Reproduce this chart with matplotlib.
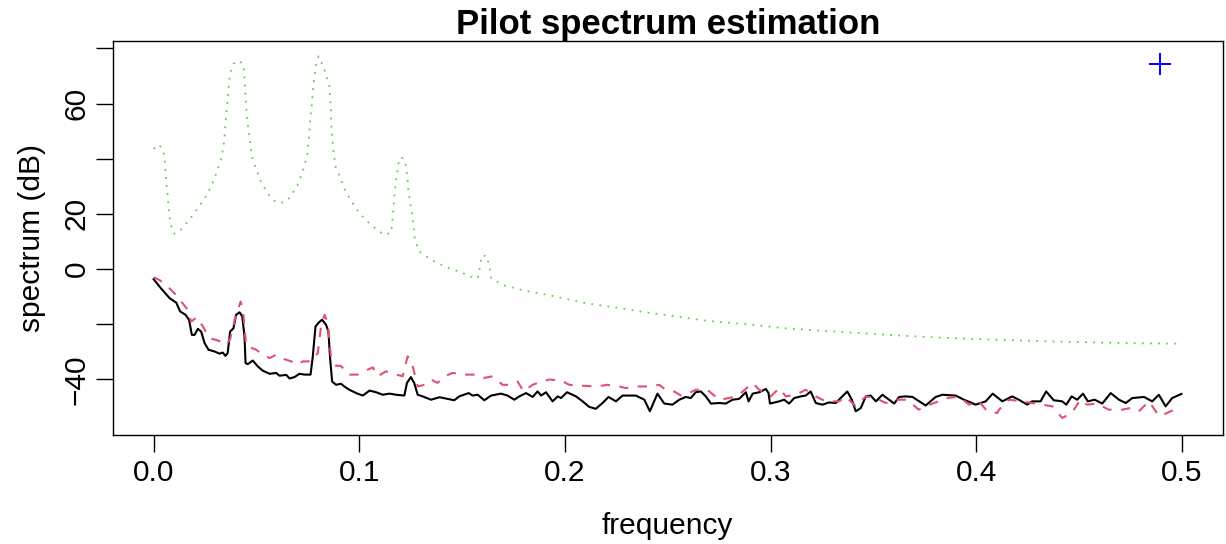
import matplotlib
matplotlib.use("Agg")
import matplotlib.pyplot as plt
import numpy as np

plt.rcParams['font.family'] = ['Liberation Sans', 'DejaVu Sans']

# pilot AR spectrum (green, dotted)
ar_f = [0.0, 0.0026, 0.0047, 0.0053, 0.0058, 0.0065, 0.0072, 0.0079, 0.0087, 0.010,
        0.0131, 0.0178, 0.0223, 0.0264, 0.0296, 0.032, 0.0331, 0.0343, 0.0351, 0.0358,
        0.0364, 0.0372, 0.0389, 0.0408, 0.0432, 0.0440, 0.0446, 0.0451, 0.0458, 0.0468,
        0.0476, 0.0487, 0.0499, 0.0526, 0.0567, 0.0596, 0.0632, 0.0661, 0.0700, 0.0727,
        0.0747, 0.0754, 0.0760, 0.0767, 0.0773, 0.078, 0.0790, 0.0802, 0.0829, 0.0840,
        0.0853, 0.0861, 0.0865, 0.0875, 0.0885, 0.0900, 0.0928, 0.0964, 0.1005, 0.1061,
        0.1121, 0.1155, 0.1163, 0.1171, 0.1179, 0.119, 0.1204, 0.1223, 0.1233, 0.1239,
        0.126, 0.1271, 0.129, 0.135, 0.1419, 0.149, 0.155, 0.1576, 0.1584, 0.1595,
        0.162, 0.1636, 0.1642, 0.1697, 0.177, 0.180, 0.1916, 0.199, 0.210, 0.225,
        0.239, 0.254, 0.269, 0.288, 0.307, 0.325, 0.345, 0.3625, 0.380, 0.400,
        0.420, 0.437, 0.456, 0.476, 0.500]
ar_db = [43.6, 45.1, 42.9, 40.3, 34.6, 29.0, 23.6, 18.0, 15.1, 12.8,
         14.1, 18.3, 22.9, 27.5, 32.8, 38.0, 40.6, 46.2, 54.4, 59.9,
         65.6, 71.0, 74.4, 75.6, 74.6, 71.9, 63.5, 57.9, 52.4, 46.8,
         41.3, 38.7, 36.1, 30.9, 26.2, 24.2, 24.1, 25.8, 30.5, 35.9,
         41.2, 46.8, 52.4, 57.8, 63.3, 69.0, 74.4, 77.1, 72.7, 70.0,
         67.4, 59.2, 50.7, 42.4, 37.0, 34.4, 29.0, 24.2, 19.8, 15.7,
         12.4, 13.1, 18.9, 26.7, 32.2, 38.2, 40.6, 39.2, 34.0, 28.0,
         18.3, 10.5, 6.5, 3.3, 0.8, -1.1, -3.0, -3.4, -0.4, 4.8,
         4.8, -0.4, -3.4, -5.8, -7.2, -7.8, -9.4, -10.6, -12.4, -14.0,
         -15.7, -17.2, -18.8, -20.0, -21.5, -22.4, -23.3, -24.1, -24.8, -25.4,
         -25.9, -26.3, -26.6, -26.9, -27.1]

# smoothed periodogram (black, solid)
sp_f = [0.0, 0.0029, 0.0045, 0.0078, 0.011, 0.0129, 0.0155, 0.0172, 0.0186, 0.0199,
        0.0215, 0.0231, 0.0248, 0.0267, 0.0296, 0.032, 0.0336, 0.0349, 0.0360, 0.0372,
        0.0388, 0.0401, 0.0418, 0.0431, 0.0442, 0.0447, 0.0458, 0.0482, 0.0506, 0.0531,
        0.0564, 0.0596, 0.0612, 0.0645, 0.0661, 0.0685, 0.0709, 0.0734, 0.0763, 0.0774,
        0.0787, 0.0803, 0.0819, 0.0839, 0.0850, 0.0858, 0.0868, 0.0887, 0.0911, 0.0927,
        0.0952, 0.0985, 0.1017, 0.1050, 0.1082, 0.1114, 0.1147, 0.1179, 0.1219, 0.1232,
        0.1251, 0.1267, 0.1284, 0.1308, 0.1349, 0.1390, 0.1422, 0.1462, 0.1486, 0.1532,
        0.1551, 0.1576, 0.1608, 0.1641, 0.1689, 0.1721, 0.1754, 0.1778, 0.1811, 0.1843,
        0.1867, 0.1884, 0.1908, 0.194, 0.1965, 0.1981, 0.201, 0.2054, 0.2086, 0.2118,
        0.215, 0.2183, 0.2212, 0.2248, 0.228, 0.2345, 0.2386, 0.2413, 0.2434, 0.2450,
        0.2483, 0.2523, 0.2556, 0.2588, 0.2612, 0.2636, 0.2661, 0.2685, 0.2710, 0.2750,
        0.2782, 0.2815, 0.2847, 0.2880, 0.2893, 0.2913, 0.2945, 0.2977, 0.2990, 0.2997,
        0.3042, 0.3066, 0.309, 0.3115, 0.3147, 0.3171, 0.3195, 0.3220, 0.3252, 0.3284,
        0.3317, 0.3349, 0.3373, 0.3395, 0.3414, 0.3439, 0.3463, 0.3487, 0.3512, 0.3544,
        0.3576, 0.3601, 0.3625, 0.3657, 0.3690, 0.3754, 0.3803, 0.3835, 0.390, 0.3940,
        0.3973, 0.3997, 0.4046, 0.408, 0.4127, 0.4175, 0.4207, 0.4248, 0.4272, 0.4313,
        0.434, 0.4377, 0.4418, 0.4438, 0.4464, 0.4491, 0.4519, 0.4543, 0.4576, 0.4613,
        0.4654, 0.4694, 0.4727, 0.4759, 0.4816, 0.4856, 0.4888, 0.4921, 0.4953, 0.4998]
sp_db = [-3.7, -6.4, -7.8, -10.6, -12.2, -15.4, -16.6, -18.4, -23.9, -23.9,
         -21.7, -22.7, -26.9, -29.3, -29.9, -30.7, -30.3, -31.5, -30.5, -22.7,
         -21.5, -16.6, -15.7, -17.2, -24.5, -34.1, -34.5, -33.2, -35.3, -36.9,
         -38.0, -37.7, -38.7, -38.4, -39.7, -39.2, -38.0, -38.3, -38.3, -31.7,
         -20.9, -19.4, -18.4, -20.3, -22.7, -32.3, -40.8, -42.0, -41.6, -42.6,
         -43.8, -45.0, -45.9, -44.1, -44.7, -45.6, -45.2, -45.6, -45.9, -41.3,
         -39.2, -41.3, -45.6, -46.2, -47.4, -46.5, -47.0, -47.6, -46.2, -45.0,
         -45.9, -45.6, -47.6, -45.9, -45.2, -45.9, -47.4, -46.2, -45.0, -46.4,
         -44.4, -45.9, -44.7, -48.0, -46.2, -46.8, -44.7, -46.2, -48.0, -50.0,
         -50.7, -48.6, -46.4, -48.0, -45.9, -45.9, -47.4, -51.6, -48.0, -45.2,
         -48.8, -49.2, -47.4, -46.4, -46.8, -44.7, -44.4, -46.2, -48.8, -48.6,
         -48.8, -47.4, -47.1, -44.7, -48.0, -45.2, -44.7, -43.5, -45.0, -48.8,
         -48.0, -47.4, -48.8, -46.8, -46.2, -45.9, -44.4, -48.6, -49.2, -48.4,
         -48.6, -46.2, -44.4, -47.4, -51.6, -50.4, -46.2, -45.9, -48.0, -45.6,
         -47.4, -48.8, -46.4, -46.2, -46.4, -49.5, -46.4, -45.6, -45.9, -47.4,
         -48.4, -49.2, -48.0, -45.2, -48.0, -46.2, -47.4, -49.2, -48.0, -48.0,
         -44.4, -47.6, -48.0, -49.2, -46.2, -47.4, -45.2, -48.0, -47.4, -48.8,
         -45.0, -47.4, -48.6, -46.8, -46.4, -48.0, -45.6, -49.8, -46.8, -45.3]

# raw periodogram (red, dashed)
pg_f = [0.0, 0.0028, 0.0061, 0.0101, 0.0134, 0.0166, 0.0182, 0.0210, 0.0240, 0.0272,
        0.0312, 0.0353, 0.0372, 0.0394, 0.0423, 0.0434, 0.045, 0.0466, 0.0499, 0.0531,
        0.0564, 0.0596, 0.0628, 0.0669, 0.0701, 0.0725, 0.0765, 0.0798, 0.0814, 0.0831,
        0.0847, 0.0863, 0.0887, 0.0911, 0.0944, 0.0993, 0.1041, 0.1066, 0.1090, 0.1130,
        0.1179, 0.1211, 0.1235, 0.1251, 0.1268, 0.1284, 0.1317, 0.1349, 0.1381, 0.1414,
        0.1454, 0.1511, 0.1568, 0.1608, 0.1649, 0.1697, 0.1730, 0.1770, 0.1799, 0.1843,
        0.1876, 0.1924, 0.1981, 0.2021, 0.2078, 0.2151, 0.2207, 0.2264, 0.2296, 0.2337,
        0.240, 0.2458, 0.249, 0.2531, 0.2564, 0.2604, 0.2636, 0.2693, 0.2750, 0.2799,
        0.2847, 0.2912, 0.2945, 0.3001, 0.3042, 0.3074, 0.3122, 0.3171, 0.3204, 0.3268,
        0.3333, 0.3365, 0.3414, 0.3463, 0.3511, 0.356, 0.3608, 0.3665, 0.372, 0.3754,
        0.3795, 0.386, 0.3916, 0.3965, 0.4013, 0.4054, 0.4103, 0.4111, 0.4159, 0.4224,
        0.4272, 0.4321, 0.4370, 0.4418, 0.4465, 0.4506, 0.4539, 0.4587, 0.4644, 0.4710,
        0.4751, 0.4791, 0.484, 0.4862, 0.4872, 0.4893, 0.4998]
pg_db = [-3.0, -4.0, -5.8, -8.8, -11.8, -14.8, -19.1, -17.5, -20.9, -25.1,
         -25.9, -27.5, -25.4, -18.4, -11.8, -14.2, -28.1, -28.3, -29.3, -31.1,
         -32.3, -31.1, -32.5, -33.5, -34.7, -33.5, -33.5, -30.5, -20.9, -16.6,
         -19.6, -32.3, -35.1, -35.1, -38.3, -38.3, -36.5, -35.7, -38.9, -37.1,
         -38.3, -38.9, -31.7, -32.9, -37.7, -42.6, -42.0, -40.1, -41.3, -38.9,
         -37.7, -38.3, -38.3, -39.5, -38.9, -42.0, -42.0, -40.8, -44.4, -42.0,
         -41.1, -40.1, -40.4, -42.0, -42.3, -42.6, -42.0, -42.6, -43.2, -42.6,
         -42.6, -42.0, -43.8, -44.4, -45.9, -45.0, -43.8, -43.8, -47.4, -46.8,
         -45.6, -41.3, -43.8, -46.2, -43.2, -46.2, -45.6, -43.8, -45.6, -48.0,
         -48.0, -46.2, -49.8, -46.2, -46.8, -48.6, -47.4, -47.4, -51.0, -49.8,
         -48.6, -46.8, -46.2, -49.2, -48.0, -51.6, -52.2, -51.0, -47.4, -48.0,
         -48.6, -49.2, -49.8, -54.0, -52.2, -47.4, -49.2, -48.8, -51.0, -51.0,
         -50.4, -51.6, -48.0, -50.4, -51.5, -53.4, -49.8]

# single marker in the corner
mark_f = [0.4893]
mark_db = [74.5]

fig = plt.figure(figsize=(12.26, 5.44), dpi=100)
ax = fig.add_axes([112.5/1226, (544-435)/544, 1110.5/1226, 393.5/544])

ax.plot(sp_f, sp_db, color='black', lw=1.5)
ax.plot(pg_f, pg_db, color='#DF536B', lw=1.5, dashes=(4.5, 4.5))
ax.plot(ar_f, ar_db, color='#61D04F', lw=1.3, dashes=(1, 3.5))
ax.plot(mark_f, mark_db, '+', color='blue', ms=16, mew=1.4)

ax.set_xlim(-0.02, 0.52)
ax.set_ylim(-60.2, 82.5)
ax.set_xticks([0.0, 0.1, 0.2, 0.3, 0.4, 0.5])
ax.set_xticklabels(['0.0', '0.1', '0.2', '0.3', '0.4', '0.5'])
ax.set_yticks([-40, -20, 0, 20, 40, 60, 80])
ax.set_yticklabels(['\u221240', '', '0', '20', '', '60', ''], rotation=90, va='center')
ax.tick_params(length=12.5, width=1, labelsize=21.5, color='black', pad=5)
ax.tick_params(axis='y', pad=3)
for s in ax.spines.values():
    s.set_linewidth(1)

ax.set_title('Pilot spectrum estimation', fontsize=25, fontweight='bold', pad=4)
ax.set_xlabel('frequency', fontsize=21.5, labelpad=18)
ax.set_ylabel('spectrum (dB)', fontsize=21.5, labelpad=12)

fig.savefig('out.png', dpi=100)
